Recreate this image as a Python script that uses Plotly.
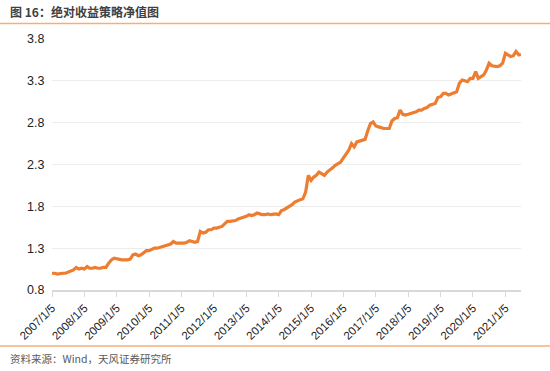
import plotly.graph_objects as go

# Monthly net value readings
years = list(range(2007, 2022))
values_by_year = {
    2007: [1.00, 1.00, 0.99, 1.00, 1.00, 1.00, 1.01, 1.03, 1.04, 1.07, 1.05, 1.06],
    2008: [1.05, 1.08, 1.06, 1.06, 1.07, 1.06, 1.06, 1.07, 1.07, 1.12, 1.16, 1.18],
    2009: [1.17, 1.17, 1.16, 1.16, 1.16, 1.17, 1.22, 1.23, 1.21, 1.22, 1.25, 1.27],
    2010: [1.27, 1.29, 1.30, 1.30, 1.31, 1.32, 1.33, 1.34, 1.35, 1.38, 1.36, 1.36],
    2011: [1.36, 1.36, 1.37, 1.39, 1.38, 1.37, 1.38, 1.50, 1.48, 1.49, 1.52, 1.52],
    2012: [1.54, 1.54, 1.55, 1.56, 1.59, 1.62, 1.62, 1.63, 1.63, 1.65, 1.66, 1.67],
    2013: [1.68, 1.70, 1.69, 1.70, 1.72, 1.71, 1.70, 1.70, 1.71, 1.70, 1.71, 1.71],
    2014: [1.70, 1.75, 1.76, 1.78, 1.80, 1.82, 1.85, 1.86, 1.88, 1.89, 1.97, 2.17],
    2015: [2.11, 2.15, 2.17, 2.21, 2.19, 2.17, 2.21, 2.23, 2.26, 2.29, 2.31, 2.33],
    2016: [2.38, 2.43, 2.47, 2.55, 2.51, 2.57, 2.58, 2.59, 2.60, 2.70, 2.79, 2.81],
    2017: [2.76, 2.75, 2.74, 2.73, 2.73, 2.73, 2.82, 2.85, 2.86, 2.95, 2.90, 2.89],
    2018: [2.90, 2.91, 2.92, 2.93, 2.95, 2.95, 2.97, 2.98, 3.01, 3.02, 3.03, 3.10],
    2019: [3.11, 3.15, 3.15, 3.13, 3.14, 3.15, 3.17, 3.27, 3.31, 3.30, 3.29, 3.33],
    2020: [3.33, 3.41, 3.33, 3.35, 3.37, 3.43, 3.51, 3.48, 3.47, 3.47, 3.48, 3.51],
    2021: [3.63, 3.61, 3.59, 3.60, 3.65, 3.61],
}
last_date = "2021-06-28"
last_value = 3.62

tick_dates = ["%d-01-05" % y for y in years]
tick_labels = ["%d/1/5" % y for y in years]
y_ticks = [0.8, 1.3, 1.8, 2.3, 2.8, 3.3, 3.8]
y_labels = ["0.8", "1.3", "1.8", "2.3", "2.8", "3.3", "3.8"]

dates, vals = [], []
for y in years:
    for m, v in enumerate(values_by_year[y], start=1):
        dates.append("%d-%02d-05" % (y, m))
        vals.append(v)
dates.append(last_date)
vals.append(last_value)

fig = go.Figure()
fig.add_trace(go.Scatter(x=dates, y=vals, mode="lines",
                         line=dict(color="#ED7D31", width=3.2),
                         hoverinfo="skip", showlegend=False))

W, H = 550, 371
L, R, T, B = 52, 29, 39, 81
pw, ph = W - L - R, H - T - B

def px(xp):
    return (xp - L) / pw

def py(yp):
    return (H - B - yp) / ph

fig.update_layout(
    width=W, height=H,
    margin=dict(l=L, r=R, t=T, b=B, autoexpand=False),
    paper_bgcolor="white", plot_bgcolor="white",
    font=dict(family="Liberation Sans, Arial, sans-serif", size=12, color="#222222"),
    xaxis=dict(type="date", range=["2007-01-05", "2021-06-30"], automargin=False,
               tickvals=tick_dates, ticktext=tick_labels, tickangle=-45,
               tickfont=dict(size=11.5, color="#222222"),
               showgrid=False, showline=True, linecolor="#d9d9d9", linewidth=1.5,
               ticks="outside", ticklen=5, tickcolor="#d9d9d9", tickwidth=1,
               zeroline=False),
    yaxis=dict(range=[0.8, 3.8], tickvals=y_ticks, ticktext=y_labels, automargin=False,
               tickfont=dict(size=12.5, color="#222222"),
               showgrid=True, gridcolor="#ececec", gridwidth=1,
               showline=False, zeroline=False, ticks="outside", ticklen=4,
               tickcolor="rgba(0,0,0,0)"),
    shapes=[
        dict(type="rect", xref="paper", yref="paper", layer="above",
             x0=px(0), x1=px(W), y0=py(24.2), y1=py(22.8),
             fillcolor="#F6AE78", line=dict(width=0)),
        dict(type="rect", xref="paper", yref="paper", layer="above",
             x0=px(0), x1=px(W), y0=py(346.7), y1=py(345.3),
             fillcolor="#F6AE78", line=dict(width=0)),
    ],
    annotations=[
        dict(text="<b>图 16：绝对收益策略净值图</b>", xref="paper", yref="paper",
             x=px(8), y=py(11), xanchor="left", yanchor="middle", showarrow=False,
             font=dict(family="Noto Sans CJK SC", size=12, color="#404040")),
        dict(text="资料来源：Wind，天风证券研究所", xref="paper", yref="paper",
             x=px(8), y=py(358), xanchor="left", yanchor="middle", showarrow=False,
             font=dict(family="Noto Sans CJK SC", size=10.5, color="#595959")),
    ],
)

fig.write_html("out.html", config={"displayModeBar": False},
               post_script="document.body.style.margin='0px';document.body.style.padding='0px';")
